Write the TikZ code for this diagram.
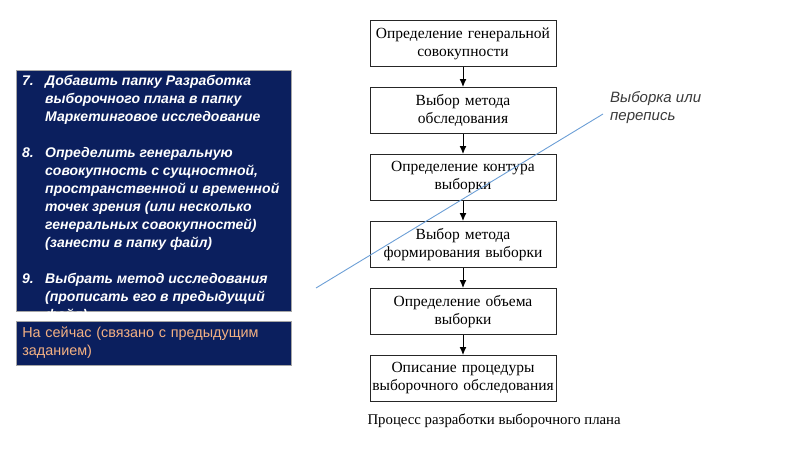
\documentclass[tikz,border=0pt]{standalone}
\usepackage{array}
\usepackage{fontspec}
\setmainfont{Liberation Serif}
\setsansfont{Liberation Sans}
\usetikzlibrary{positioning,arrows.meta}

\definecolor{navy}{HTML}{0B1F5E}
\definecolor{peach}{HTML}{F4B183}
\definecolor{skyline}{HTML}{6C9FD6}
\definecolor{notegray}{HTML}{3A3A3A}

\begin{document}
\begin{tikzpicture}[x=1pt,y=-1pt,
  stepbox/.style={draw=black!85,line width=1pt,minimum width=186pt,minimum height=46pt,
    text width=182pt,align=center,inner sep=1pt,font=\fontsize{15.5}{18}\selectfont},
  flow/.style={-{Latex[length=8pt,width=7pt]},line width=1pt},
  navybox/.style={fill=navy,draw=gray!70,line width=0.6pt},
  node distance=20pt]
\useasboundingbox (0,0) rectangle (800,450);

% task list on the left, its last line is cut by the box
\fill[navybox] (16,70) rectangle (291,311);
\begin{scope}
\clip (16,70) rectangle (291,311);
\node[anchor=north west,inner sep=0pt,text=white,
  font=\sffamily\bfseries\itshape\fontsize{14}{18}\selectfont] (tasks) at (22,73) {%
  \begin{tabular}{@{}p{23pt}@{}>{\raggedright\arraybackslash}p{240pt}@{}}
  7. & Добавить папку Разработка выборочного плана в папку Маркетинговое исследование\\
  & \\
  8. & Определить генеральную совокупность с сущностной, пространственной и временной точек зрения (или несколько генеральных совокупностей) (занести в папку файл)\\
  & \\
  9. & Выбрать метод исследования (прописать его в предыдущий файл)
  \end{tabular}};
\end{scope}

\node[navybox,anchor=north west,minimum width=275pt,minimum height=41pt,
  text width=263pt,align=left,inner sep=6pt,text=peach,
  font=\sffamily\fontsize{14.4}{18}\selectfont] (now) at (16,321)
  {На сейчас (связано с предыдущим заданием)};

% process chart
\node[stepbox] (s1) at (463,43.5) {Определение генеральной\\совокупности};
\node[stepbox,below=of s1] (s2) {Выбор метода\\обследования};
\node[stepbox,below=of s2] (s3) {Определение контура\\выборки};
\node[stepbox,below=of s3] (s4) {Выбор метода\\формирования выборки};
\node[stepbox,below=of s4] (s5) {Определение объема\\выборки};
\node[stepbox,below=of s5] (s6) {Описание процедуры\\выборочного обследования};
\foreach \a/\b in {s1/s2,s2/s3,s3/s4,s4/s5,s5/s6}
  \draw[flow] (\a) -- (\b);

\node[anchor=west,font=\fontsize{14.8}{18}\selectfont] (caption) at (364,421)
  {Процесс разработки выборочного плана};

% note with pointer line
\node[anchor=north west,align=left,inner sep=0pt,text=notegray,
  font=\sffamily\itshape\fontsize{15}{18}\selectfont] (note) at (610,91)
  {Выборка или\\перепись};
\coordinate (lineA) at (316,288);
\coordinate (lineB) at (603,114);
\draw[skyline,line width=0.9pt] (lineA) -- (lineB);
\end{tikzpicture}
\end{document}
